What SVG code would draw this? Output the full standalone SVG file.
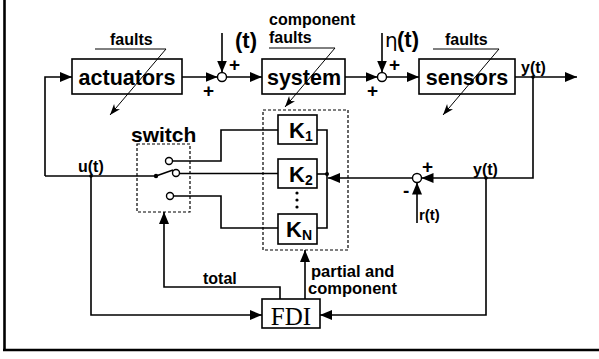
<svg xmlns="http://www.w3.org/2000/svg" width="599" height="359" viewBox="0 0 599 359">
<defs>
<marker id="ah" markerUnits="userSpaceOnUse" markerWidth="13" markerHeight="11" refX="12" refY="5" orient="auto"><path d="M0,0 L12,5 L0,10 z" fill="#000"/></marker>
<marker id="fa" markerUnits="userSpaceOnUse" markerWidth="12" markerHeight="9" refX="11" refY="4" orient="auto"><path d="M0,0 L11,4 L0,8 L3,4 z" fill="#000"/></marker>
</defs>
<style>
.ln{fill:none;stroke:#000;stroke-width:1.6}
.fl{fill:none;stroke:#000;stroke-width:1}
.bx{fill:#fff;stroke:#000;stroke-width:1.6}
.ds{fill:none;stroke:#000;stroke-width:1.2;stroke-dasharray:3,2}
.sj{fill:#fff;stroke:#000;stroke-width:1.4}
.t{font-family:"Liberation Sans",Arial,sans-serif;font-weight:bold;fill:#000}
.big{font-size:21.5px}
.sm{font-size:16px}
.pm{font-size:19px}
</style>
<rect width="599" height="359" fill="#fff"/>
<g id="frame">
<line x1="4.5" y1="0" x2="4.5" y2="351" stroke="#000" stroke-width="2.6"/>
<line x1="3" y1="350" x2="599" y2="350" stroke="#000" stroke-width="2.6"/>
</g>
<g id="connectors">
<path class="ln" d="M45,176 L45,77 L72,77" marker-end="url(#ah)"/>
<path class="ln" d="M182,77 L217.5,77" marker-end="url(#ah)"/>
<path class="ln" d="M222,33 L222,72.5" marker-end="url(#ah)"/>
<path class="ln" d="M226.5,77 L262,77" marker-end="url(#ah)"/>
<path class="ln" d="M345,77 L377.5,77" marker-end="url(#ah)"/>
<path class="ln" d="M382,33 L382,72.5" marker-end="url(#ah)"/>
<path class="ln" d="M386.5,77 L419,77" marker-end="url(#ah)"/>
<path class="ln" d="M515,77 L577,77" marker-end="url(#ah)"/>
<path class="ln" d="M533,77 L533,178 L421.5,178" marker-end="url(#ah)"/>
<path class="ln" d="M412.5,178 L328,178" marker-end="url(#ah)"/>
<path class="ln" d="M417,223 L417,182.5" marker-end="url(#ah)"/>
<path class="ln" d="M486,178 L486,315 L320,315" marker-end="url(#ah)"/>
<path class="ln" d="M317,130 L327,130 L327,228 L317,228"/>
<path class="ln" d="M317,174 L327,174"/>
<circle cx="327" cy="174" r="2" fill="#000"/>
<path class="ln" d="M172.5,161 L221,161 L221,130 L278,130"/>
<path class="ln" d="M179.5,173.5 L278,173.5"/>
<path class="ln" d="M173.5,196 L221,196 L221,228 L278,228"/>
<path class="ln" d="M45,176 L156,176"/>
<path class="ln" d="M156,176 L173,170"/>
<circle cx="156" cy="176" r="2.2" fill="#000"/>
<path class="ln" d="M91,176 L91,315 L262,315" marker-end="url(#ah)"/>
<circle cx="91" cy="176" r="1.8" fill="#000"/>
<circle cx="533" cy="77" r="1.8" fill="#000"/>
<circle cx="486" cy="178" r="1.8" fill="#000"/>
<path class="ln" d="M280,299 L280,287 L164,287 L164,212" marker-end="url(#ah)"/>
<path class="ln" d="M305,299 L305,250" marker-end="url(#ah)"/>
</g>
<g id="sum1"><circle class="sj" cx="222" cy="77" r="4.5"/>
<text class="t pm" x="229" y="71">+</text><text class="t pm" x="203" y="97">+</text>
<text class="t" x="235" y="48" font-size="22">(t)</text></g>
<g id="sum2"><circle class="sj" cx="382" cy="77" r="4.5"/>
<text class="t pm" x="389" y="71">+</text><text class="t pm" x="367" y="97">+</text>
<text x="385" y="47" font-family="'DejaVu Sans',sans-serif" font-size="20">η</text>
<text class="t" x="397" y="47" font-size="22">(t)</text></g>
<g id="sum3"><circle class="sj" cx="417" cy="178" r="4.5"/>
<text class="t pm" x="422" y="173">+</text><text class="t pm" x="403" y="197">-</text>
<text class="t" x="419" y="220" font-size="15">r(t)</text></g>
<g id="actuators"><rect class="bx" x="72" y="59" width="110" height="35"/>
<text class="t big" x="127" y="85" text-anchor="middle">actuators</text>
<text class="t sm" x="110" y="45">faults</text></g>
<g id="system"><rect class="bx" x="262" y="59" width="83" height="35"/>
<text class="t big" x="304" y="85" text-anchor="middle">system</text>
<text class="t sm" x="269" y="25">component</text>
<text class="t sm" x="269" y="43">faults</text></g>
<g id="sensors"><rect class="bx" x="419" y="59" width="96" height="35"/>
<text class="t big" x="467" y="85" text-anchor="middle">sensors</text>
<text class="t sm" x="445" y="45">faults</text>
<text class="t sm" x="521" y="73">y(t)</text></g>
<g id="labels">
<text class="t sm" x="78" y="172">u(t)</text>
<text class="t sm" x="473" y="175">y(t)</text>
<text class="t sm" x="203" y="284">total</text>
<text class="t" x="311" y="277" font-size="16.5">partial and</text>
<text class="t" x="308" y="294" font-size="16.5">component</text>
</g>
<g id="switch"><rect class="ds" x="137" y="144" width="53" height="68"/>
<text class="t" x="131" y="142" font-size="21">switch</text>
<circle class="sj" cx="169" cy="161" r="3.5"/>
<circle class="sj" cx="176" cy="173" r="3.5"/>
<circle class="sj" cx="170" cy="196" r="3.5"/>
</g>
<g id="controllers"><rect class="ds" x="263" y="110" width="85" height="140"/>
<g id="K1"><rect class="bx" x="278" y="115" width="39" height="29"/>
<text class="t" x="289" y="138" font-size="22">K<tspan font-size="14" dy="3">1</tspan></text></g>
<g id="K2"><rect class="bx" x="278" y="159" width="39" height="29"/>
<text class="t" x="289" y="182" font-size="22">K<tspan font-size="14" dy="3">2</tspan></text></g>
<g id="KN"><rect class="bx" x="278" y="214" width="39" height="30"/>
<text class="t" x="286" y="237" font-size="22">K<tspan font-size="14" dy="3">N</tspan></text></g>
<circle cx="297" cy="193" r="1.6" fill="#000"/><circle cx="297" cy="200" r="1.6" fill="#000"/><circle cx="297" cy="207" r="1.6" fill="#000"/>
</g>
<g id="FDI"><rect class="bx" x="262" y="299" width="58" height="29"/>
<text x="291" y="325" text-anchor="middle" font-family="'Liberation Serif','Times New Roman',serif" font-size="25">FDI</text></g>
<g id="fault-connectors">
<path class="fl" d="M95,49 L166,49 L110,115" marker-end="url(#fa)"/>
<path class="fl" d="M269,48 L335,48 L285,107" marker-end="url(#fa)"/>
<path class="fl" d="M433,49 L499,49 L443,115" marker-end="url(#fa)"/>
</g>
</svg>
